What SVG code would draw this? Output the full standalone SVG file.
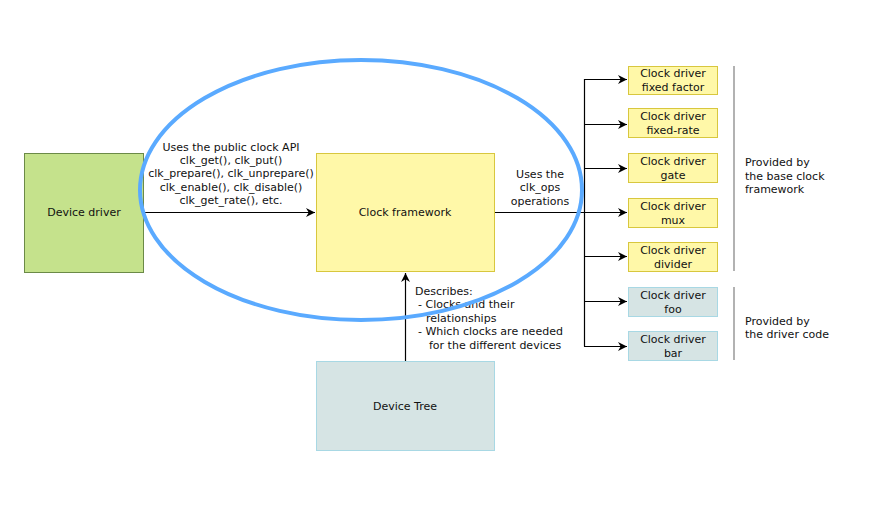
<svg xmlns="http://www.w3.org/2000/svg" width="876" height="505" viewBox="0 0 876 505">
<style>
text{font-family:"DejaVu Sans","Noto Sans",sans-serif;font-size:11px;fill:#111}
.c{text-anchor:middle}
.y{fill:#fff8a8;stroke:#d8c73e;stroke-width:1}
.b{fill:#d6e4e4;stroke:#a8d8e4;stroke-width:1}
.ln{fill:none;stroke:#000;stroke-width:1.2}
.g{stroke:#999;stroke-width:1.5}
</style>
<defs>
<marker id="ah" viewBox="0 0 10 10" refX="10" refY="5" markerWidth="9" markerHeight="9" markerUnits="userSpaceOnUse" orient="auto">
<path d="M0,0 L10,5 L0,10 L3,5 Z" fill="#000"/>
</marker>
</defs>
<rect width="876" height="505" fill="#fff"/>
<g id="device-driver">
<rect x="24.5" y="153.5" width="119" height="119" fill="#c5e28c" stroke="#6b8a47"/>
<text class="c" x="84" y="216">Device driver</text>
</g>
<g id="clock-framework">
<rect x="316.5" y="153.5" width="178" height="118" class="y"/>
<text class="c" x="405" y="216">Clock framework</text>
</g>
<g id="device-tree">
<rect x="316.5" y="361.5" width="178" height="89" class="b"/>
<text class="c" x="405" y="410">Device Tree</text>
</g>
<g id="fixed-factor"><rect x="628.5" y="66.5" width="89" height="28" class="y"/><text class="c" x="673" y="77">Clock driver</text><text class="c" x="673" y="91">fixed factor</text></g>
<g id="fixed-rate"><rect x="628.5" y="108.5" width="89" height="29" class="y"/><text class="c" x="673" y="120">Clock driver</text><text class="c" x="673" y="134">fixed-rate</text></g>
<g id="gate"><rect x="628.5" y="153.5" width="89" height="29" class="y"/><text class="c" x="673" y="165">Clock driver</text><text class="c" x="673" y="179">gate</text></g>
<g id="mux"><rect x="628.5" y="198.5" width="89" height="29" class="y"/><text class="c" x="673" y="210">Clock driver</text><text class="c" x="673" y="224">mux</text></g>
<g id="divider"><rect x="628.5" y="242.5" width="89" height="29" class="y"/><text class="c" x="673" y="254">Clock driver</text><text class="c" x="673" y="268">divider</text></g>
<g id="foo"><rect x="628.5" y="287.5" width="89" height="29" class="b"/><text class="c" x="673" y="299">Clock driver</text><text class="c" x="673" y="313">foo</text></g>
<g id="bar"><rect x="628.5" y="331.5" width="89" height="29" class="b"/><text class="c" x="673" y="343">Clock driver</text><text class="c" x="673" y="357">bar</text></g>
<g id="notes">
<line x1="734" y1="66" x2="734" y2="271" class="g"/>
<line x1="734" y1="287" x2="734" y2="360" class="g"/>
<text x="745" y="166">Provided by</text>
<text x="745" y="180">the base clock</text>
<text x="745" y="193">framework</text>
<text x="745" y="325">Provided by</text>
<text x="745" y="338">the driver code</text>
</g>
<g id="connectors">
<line x1="143" y1="212.5" x2="315" y2="212.5" class="ln" marker-end="url(#ah)"/>
<line x1="405.5" y1="361" x2="405.5" y2="273" class="ln" marker-end="url(#ah)"/>
<line x1="495" y1="212.5" x2="584.5" y2="212.5" class="ln"/>
<line x1="584.5" y1="79" x2="584.5" y2="346.5" class="ln"/>
<line x1="584" y1="79.5" x2="627" y2="79.5" class="ln" marker-end="url(#ah)"/>
<line x1="584" y1="124.5" x2="627" y2="124.5" class="ln" marker-end="url(#ah)"/>
<line x1="584" y1="168.5" x2="627" y2="168.5" class="ln" marker-end="url(#ah)"/>
<line x1="584" y1="212.5" x2="627" y2="212.5" class="ln" marker-end="url(#ah)"/>
<line x1="584" y1="256.5" x2="627" y2="256.5" class="ln" marker-end="url(#ah)"/>
<line x1="584" y1="301.5" x2="627" y2="301.5" class="ln" marker-end="url(#ah)"/>
<line x1="584" y1="346.5" x2="627" y2="346.5" class="ln" marker-end="url(#ah)"/>
</g>
<g id="labels">
<text class="c" x="231" y="151">Uses the public clock API</text>
<text class="c" x="231" y="164">clk_get(), clk_put()</text>
<text class="c" x="231" y="177">clk_prepare(), clk_unprepare()</text>
<text class="c" x="231" y="191">clk_enable(), clk_disable()</text>
<text class="c" x="231" y="204">clk_get_rate(), etc.</text>
<text class="c" x="540" y="178">Uses the</text>
<text class="c" x="540" y="191">clk_ops</text>
<text class="c" x="540" y="205">operations</text>
<text x="415" y="295">Describes:</text>
<text x="418" y="308">- Clocks and their</text>
<text x="426" y="322">relationships</text>
<text x="418" y="335">- Which clocks are needed</text>
<text x="429" y="349">for the different devices</text>
</g>
<g id="highlight">
<ellipse cx="361" cy="190" rx="221" ry="130" fill="none" stroke="#5aaaff" stroke-width="4"/>
</g>
</svg>
